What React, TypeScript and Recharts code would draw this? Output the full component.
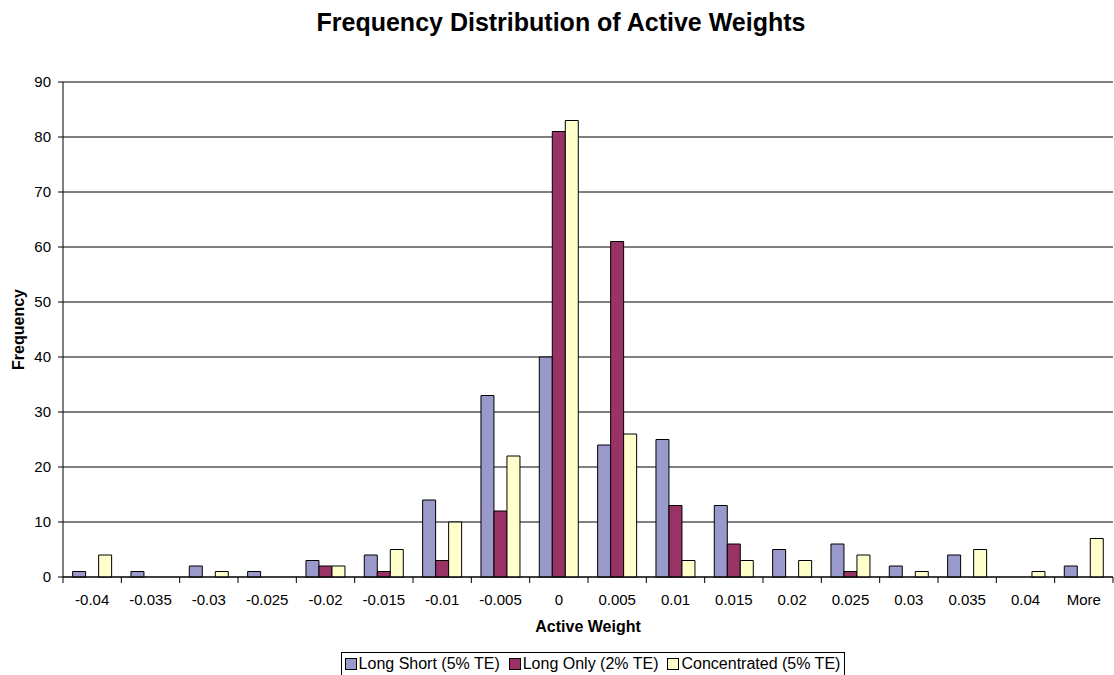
import { BarChart, Bar, XAxis, YAxis, CartesianGrid, Legend } from 'recharts'

const bins = ['-0.04', '-0.035', '-0.03', '-0.025', '-0.02', '-0.015', '-0.01', '-0.005', '0', '0.005', '0.01', '0.015', '0.02', '0.025', '0.03', '0.035', '0.04', 'More']
const longShort = [1, 1, 2, 1, 3, 4, 14, 33, 40, 24, 25, 13, 5, 6, 2, 4, 0, 2]
const longOnly = [0, 0, 0, 0, 2, 1, 3, 12, 81, 61, 13, 6, 0, 1, 0, 0, 0, 0]
const concentrated = [4, 0, 1, 0, 2, 5, 10, 22, 83, 26, 3, 3, 3, 4, 1, 5, 1, 7]
const yTicks = [0, 10, 20, 30, 40, 50, 60, 70, 80, 90]

const series = [
  { key: 'longShort', name: 'Long Short (5% TE)', color: '#9999cc' },
  { key: 'longOnly', name: 'Long Only (2% TE)', color: '#993366' },
  { key: 'concentrated', name: 'Concentrated (5% TE)', color: '#ffffcc' },
]

const data = bins.map((bin, i) => ({
  bin,
  longShort: longShort[i],
  longOnly: longOnly[i],
  concentrated: concentrated[i],
}))

const font = 'Arial, "Liberation Sans", sans-serif'

const XTick = (props: any) => {
  const { x, y, payload, index } = props
  const half = payload && payload.offset ? payload.offset : 1050 / bins.length / 2
  const axisY = y - 17
  return (
    <g>
      <line x1={x - half} y1={axisY} x2={x - half} y2={axisY + 6} stroke='#000' />
      {index === bins.length - 1 && (
        <line x1={x + half} y1={axisY} x2={x + half} y2={axisY + 6} stroke='#000' />
      )}
      <text x={x} y={y} dy='0.71em' textAnchor='middle' fontSize={15} fill='#000' fontFamily={font}>
        {payload.value}
      </text>
    </g>
  )
}

const LegendBox = () => (
  <div style={{ display: 'flex', justifyContent: 'center', paddingLeft: 72 }}>
    <div
      style={{
        border: '1px solid #000',
        padding: '2px 4px 2px 3px',
        fontFamily: font,
        fontSize: 16,
        color: '#000',
        display: 'flex',
        gap: 9,
        whiteSpace: 'nowrap',
        lineHeight: '18px',
      }}
    >
      {series.map((s) => (
        <span key={s.key} style={{ display: 'flex', alignItems: 'center' }}>
          <span
            style={{
              display: 'inline-block',
              width: 10,
              height: 10,
              background: s.color,
              border: '1px solid #000',
              marginRight: 2,
            }}
          />
          {s.name}
        </span>
      ))}
    </div>
  </div>
)

const App = () => {
  return (
    <div style={{ position: 'absolute', left: 0, top: 0, width: 1114, height: 675, background: '#fff' }}>
      <div
        style={{
          position: 'absolute',
          top: 8,
          left: 0,
          width: 1122,
          textAlign: 'center',
          fontFamily: font,
          fontWeight: 'bold',
          fontSize: 25,
          color: '#000',
        }}
      >
        Frequency Distribution of Active Weights
      </div>
      <BarChart
        width={1114}
        height={675}
        data={data}
        margin={{ top: 82, right: 1, left: 0, bottom: 14 }}
        barGap={0}
        barCategoryGap='16.5%'
      >
        <CartesianGrid vertical={false} stroke='#000' />
        <XAxis
          dataKey='bin'
          height={60}
          interval={0}
          tickSize={6}
          tickMargin={11}
          tickLine={false}
          tick={<XTick />}
          axisLine={{ stroke: '#000' }}
          label={{
            value: 'Active Weight',
            position: 'insideBottom',
            offset: 5,
            style: { fontWeight: 'bold', fontSize: 16, fill: '#000', fontFamily: font },
          }}
        />
        <YAxis
          width={63}
          domain={[0, 90]}
          ticks={yTicks}
          interval={0}
          tickSize={5}
          tickMargin={7}
          tickLine={{ stroke: '#000' }}
          axisLine={{ stroke: '#000' }}
          tick={{ fontSize: 15, fill: '#000', fontFamily: font }}
          label={{
            value: 'Frequency',
            angle: -90,
            position: 'insideLeft',
            offset: 18,
            style: { textAnchor: 'middle', fontWeight: 'bold', fontSize: 16, fill: '#000', fontFamily: font },
          }}
        />
        <Legend
          verticalAlign='bottom'
          content={<LegendBox />}
          wrapperStyle={{ bottom: -1, left: 0, width: 1114 }}
        />
        {series.map((s) => (
          <Bar
            key={s.key}
            dataKey={s.key}
            name={s.name}
            fill={s.color}
            stroke='#000'
            strokeWidth={1}
            isAnimationActive={false}
          />
        ))}
      </BarChart>
    </div>
  )
}

export default App
